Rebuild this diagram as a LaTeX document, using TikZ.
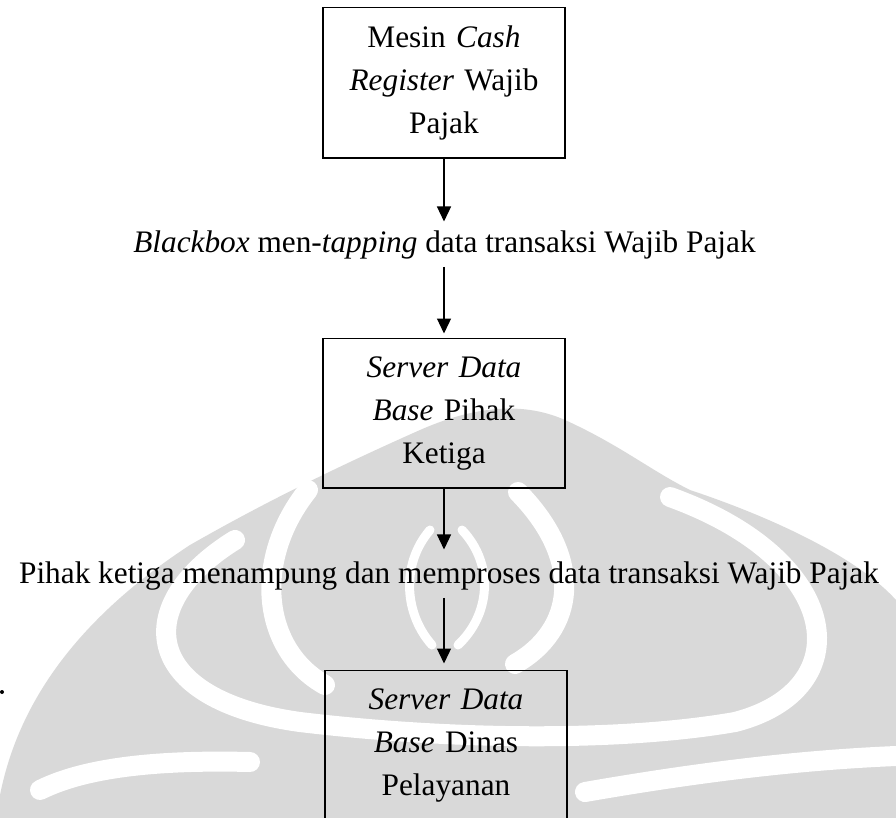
\documentclass[tikz,border=0pt]{standalone}
\usepackage{fontspec}
\setmainfont{Liberation Serif}
\usetikzlibrary{arrows.meta}
\definecolor{wm}{gray}{0.85}
\tikzset{
  boxnode/.style={draw, line width=1.4pt, text width=236pt, align=center,
    inner xsep=3pt, inner ysep=18pt},
  lbl/.style={inner sep=0pt},
  arr/.style={line width=1.3pt, -{Triangle[length=15pt,width=14pt]}},
  band/.style={draw=white, line width=20pt, line cap=round},
  thinband/.style={draw=white, line width=9pt, line cap=round}
}
\begin{document}
\begin{tikzpicture}[x=1pt,y=-1pt, font=\fontsize{31.3pt}{43pt}\selectfont]
\useasboundingbox (0,0) rectangle (896,818);
\clip (0,0) rectangle (896,818);
% watermark (light grey logo)
\fill[wm] (0,818) -- (0,795) .. controls (15,720) and (60,630) .. (190,545)
  .. controls (260,505) and (330,470) .. (420,430)
  .. controls (470,408) and (520,400) .. (565,420)
  .. controls (620,445) and (650,470) .. (690,490)
  .. controls (780,520) and (860,560) .. (896,600) -- (896,818) -- cycle;
% outer ring
\draw[band] (235,540) .. controls (130,605) and (140,700) .. (300,722)
  .. controls (450,740) and (620,742) .. (735,722)
  .. controls (860,690) and (845,560) .. (670,497);
% inner ring
\draw[band] (308,490) .. controls (252,560) and (262,650) .. (325,685);
\draw[band] (518,492) .. controls (585,560) and (575,630) .. (515,664);
% lower bands
\draw[band] (40,790) .. controls (90,765) and (170,760) .. (250,762);
\draw[band] (585,792) .. controls (700,772) and (800,760) .. (896,756);
% inner lens
\draw[thinband] (430,530) .. controls (400,565) and (405,615) .. (432,645);
\draw[thinband] (462,530) .. controls (495,565) and (490,615) .. (458,645);
% diagram
\node[boxnode, anchor=north] (b1) at (444,7) {Mesin \textit{Cash}\\\textit{Register} Wajib\\Pajak};
\node[lbl, anchor=base] (t1) at (444.5,253) {\textit{Blackbox} men-\textit{tapping} data transaksi Wajib Pajak};
\node[boxnode, anchor=north] (b2) at (444,338) {\textit{Server Data}\\\textit{Base} Pihak\\Ketiga};
\node[lbl, anchor=base] (t2) at (449,583) {Pihak ketiga menampung dan memproses data transaksi Wajib Pajak};
\node[boxnode, anchor=north] (b3) at (446,670) {\textit{Server Data}\\\textit{Base} Dinas\\Pelayanan};
\draw[arr, shorten >=9.6pt] (b1.south) -- (b1.south |- t1.north);
\draw[arr, shorten <=7pt, shorten >=4.5pt] (t1.south -| b2.north) -- (b2.north);
\draw[arr, shorten >=11.6pt] (b2.south) -- (b2.south |- t2.north);
\draw[arr, shorten <=8pt, shorten >=6.5pt] (t2.south -| b2.south) -- (b3.north -| b2.south);
\fill (2,692) circle (2pt);
\end{tikzpicture}
\end{document}
